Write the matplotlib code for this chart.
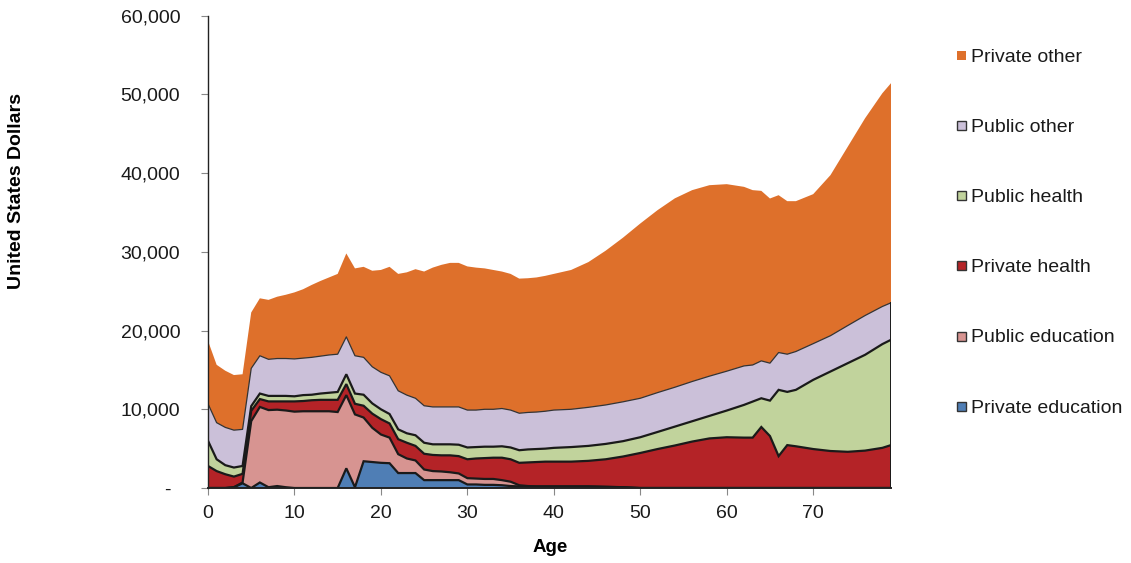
import numpy as np
import matplotlib
matplotlib.use("Agg")
import matplotlib.pyplot as plt
from matplotlib.patches import Rectangle
from matplotlib.ticker import FuncFormatter

plt.rcParams['font.family'] = ['Liberation Sans', 'DejaVu Sans']

# ages (yearly to 40, then every 2 years, yearly around 62-68)
ages = list(range(0, 41)) + [42, 44, 46, 48, 50, 52, 54, 56, 58, 60, 62, 63, 64,
                             65, 66, 67, 68, 70, 72, 74, 76, 78, 79]

private_education = [0, 0, 0, 100, 600, 0, 700, 100, 250, 100, 0, 0, 0, 0, 0, 0,
                     2500, 100, 3400, 3300, 3200, 3150, 1900, 1900, 1900, 1000, 1000,
                     1000, 1000, 1000, 450, 450, 400, 400, 350, 250, 200, 200, 200, 200,
                     200,
                     200, 200, 150, 100, 0, 0, 0, 0, 0, 0, 0, 0, 0, 0, 0, 0, 0, 0, 0, 0,
                     0, 0, 0]
public_education = [0, 0, 0, 0, 100, 8500, 9600, 9800, 9700, 9750, 9700, 9750, 9750,
                    9750, 9750, 9650, 9300, 9250, 5550, 4350, 3600, 3250, 2400, 1850,
                    1600, 1350, 1150, 1100, 1000, 850, 800, 750, 750, 750, 650, 550, 150,
                    50, 0, 0, 0,
                    0, 0, 0, 0, 0, 0, 0, 0, 0, 0, 0, 0, 0, 0, 0, 0, 0, 0, 0, 0, 0, 0, 0]
private_health = [2800, 2150, 1750, 1350, 1100, 1300, 1000, 1100, 1050, 1150, 1300,
                  1300, 1400, 1450, 1450, 1550, 1400, 1350, 1500, 1800, 1950, 1800, 1900,
                  2000, 1850, 2000, 2050, 2050, 2150, 2200, 2400, 2550, 2650, 2700, 2850,
                  2850, 2850, 3000, 3100, 3150, 3150,
                  3150, 3250, 3500, 3900, 4450, 4950, 5400, 5900, 6300, 6450, 6400, 6400,
                  7750, 6600, 4050, 5450, 5300, 4950, 4700, 4600, 4750, 5100, 5450]
public_health = [3200, 1500, 1150, 1150, 1000, 600, 700, 700, 700, 700, 650, 750, 700,
                 800, 900, 1000, 1250, 1300, 1400, 1300, 1250, 1200, 1250, 1200, 1350,
                 1400, 1350, 1400, 1400, 1450, 1500, 1450, 1450, 1400, 1450, 1500, 1600,
                 1650, 1650, 1650, 1750,
                 1850, 1900, 1950, 1950, 2000, 2170, 2400, 2580, 2860, 3390, 4160, 4580,
                 3650, 4500, 8420, 6760, 7170, 8790, 10100, 11260, 12170, 13180, 13380]
public_other = [4700, 4650, 4800, 4750, 4650, 4800, 4800, 4650, 4750, 4750, 4750, 4700,
                4750, 4750, 4800, 4800, 4750, 4800, 4750, 4650, 4700, 4850, 4900, 4850,
                4700, 4700, 4750, 4750, 4750, 4800, 4750, 4700, 4750, 4750, 4800, 4750,
                4700, 4700, 4700, 4750, 4800,
                4800, 4900, 4950, 5000, 4950, 5000, 5000, 5050, 5050, 5000, 4950, 4650,
                4750, 4760, 4740, 4790, 4870, 4600, 4550, 4780, 4990, 4780, 4700]
private_other = [8000, 7350, 7200, 7000, 7000, 7100, 7300, 7550, 7850, 8100, 8450, 8750,
                 9200, 9550, 9850, 10200, 10600, 11100, 11500, 12200, 13000, 13850, 14850,
                 15600, 16400, 17050, 17700, 18050, 18300, 18300, 18250, 18100, 17900,
                 17700, 17400, 17300, 17100, 17050, 17100, 17200, 17300,
                 17700, 18450, 19600, 20850, 22200, 23180, 24000, 24310, 24260, 23760,
                 22750, 22210, 21600, 20920, 19990, 19440, 19100, 18990, 20400, 22720,
                 25060, 27090, 27900]

labels = ["Private education", "Public education", "Private health",
          "Public health", "Public other", "Private other"]
colors = ["#4f7eb5", "#d79491", "#b42327", "#c1d39c", "#cbc0d9", "#de702b"]

layers = np.array([private_education, public_education, private_health,
                   public_health, public_other, private_other], dtype=float)
x = np.array(ages, dtype=float)
tops = np.cumsum(layers, axis=0)

fig = plt.figure(figsize=(11.31, 5.63), dpi=100)
ax = fig.add_axes([0.1839, 0.1332, 0.6039, 0.8389])

ax.stackplot(x, layers, colors=colors, linewidth=0)

# borders between the layers
for i in range(4):
    ax.plot(x, tops[i], color="#1a1a1a", lw=1.6, solid_joinstyle="miter")
ax.plot(x, tops[4], color="#333333", lw=0.9)
ax.plot([x[-1], x[-1]], [0, tops[4][-1]], color="#1a1a1a", lw=1.4)

ax.set_xlim(0, 79)
ax.set_ylim(0, 60000)
ax.set_xticks(range(0, 80, 10))
ax.set_yticks(range(0, 60001, 10000))
# excel accounting style: zero shown as a dash
ax.yaxis.set_major_formatter(
    FuncFormatter(lambda v, p: "-" if v == 0 else f"{v:,.0f}"))

for s in ["top", "right"]:
    ax.spines[s].set_visible(False)
ax.spines["left"].set_color("#222222")
ax.spines["bottom"].set_color("#222222")
ax.spines["left"].set_linewidth(1.0)
ax.spines["bottom"].set_linewidth(1.4)
ax.tick_params(axis="y", direction="out", length=5, width=0.8, color="#888888",
               labelsize=14, pad=15, labelcolor="#1a1a1a")
ax.tick_params(axis="x", direction="out", length=5, width=0.8, color="#888888",
               labelsize=14, pad=7, labelcolor="#1a1a1a")
# the dash sits further in from the axis
ax.yaxis.get_major_ticks()[0].set_pad(22)

fig.text(17 / 1131, 1 - 191 / 563, "United States Dollars", rotation=90,
         ha="center", va="center", fontsize=14, fontweight="bold")
fig.text(550 / 1131, 1 - 548 / 563, "Age", ha="center", va="center",
         fontsize=13.5, fontweight="bold")

# legend on the right, top entry first
W, H = 1131, 563
for k, i in enumerate(range(5, -1, -1)):
    cy = 55.3 + 70.2 * k
    edge = "none" if i == 5 else "#333333"
    fig.add_artist(Rectangle((957 / W, 1 - (cy + 4.5) / H), 9 / W, 9 / H,
                             transform=fig.transFigure, facecolor=colors[i],
                             edgecolor=edge, lw=1.0))
    fig.text(971.5 / W, 1 - (cy + 6.4) / H, labels[i], ha="left", va="baseline",
             fontsize=14, color="#1a1a1a")

fig.savefig("out.png", dpi=100)
